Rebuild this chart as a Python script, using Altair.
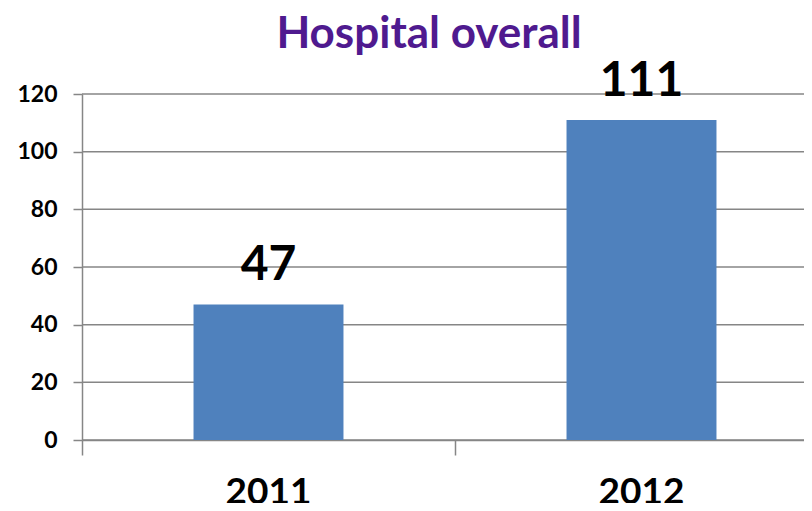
import altair as alt
import pandas as pd

years = ["2011", "2012"]
values = [47, 111]
y_ticks = [0, 20, 40, 60, 80, 100, 120]
title_text = "Hospital overall"

df = pd.DataFrame({"year": years, "value": values})
grid_df = pd.DataFrame({"value": y_ticks})
title_df = pd.DataFrame({"t": [title_text]})

FONT = "Lato"
GRAY = "#868686"
W, H = 722, 346

x_enc = alt.X(
    "year:N",
    sort=years,
    scale=alt.Scale(range=[0, 746], paddingInner=0, paddingOuter=0),
    axis=alt.Axis(
        title=None,
        labelAngle=0,
        bandPosition=0,
        tickSize=15,
        tickColor=GRAY,
        tickWidth=1.5,
        domainColor=GRAY,
        domainWidth=1.5,
        labelFont=FONT,
        labelFontSize=37,
        labelFontWeight="bold",
        labelColor="black",
        labelPadding=19,
        grid=False,
    ),
)
y_scale = alt.Scale(domain=[0, 120], nice=False)
y_axis = alt.Axis(
    title=None,
    values=y_ticks,
    tickSize=9,
    tickColor=GRAY,
    tickWidth=1.5,
    domainColor=GRAY,
    domainWidth=1.5,
    grid=False,
    labelFont=FONT,
    labelFontSize=23,
    labelFontWeight="bold",
    labelColor="black",
    labelPadding=16,
)
y_enc = alt.Y("value:Q", scale=y_scale, axis=y_axis)

grid = alt.Chart(grid_df).mark_rule(color=GRAY, strokeWidth=1.5).encode(
    y=y_enc,
    x=alt.value(0),
    x2=alt.value(W + 20),
)

base = alt.Chart(df).encode(x=x_enc, y=y_enc)
bars = base.mark_bar(color="#4F81BD", width={"band": 0.402})
labels = base.mark_text(
    font=FONT, fontSize=48, fontWeight="bold", color="black",
    baseline="alphabetic", dy=-24,
).encode(text="value:Q")

title = alt.Chart(title_df).mark_text(
    font=FONT, fontSize=44, fontWeight="bold", color="#4F1A8F",
    baseline="alphabetic", align="center",
).encode(text="t:N", x=alt.value(347), y=alt.value(-46))

chart = (
    alt.layer(grid, bars, labels, title)
    .properties(
        width=W,
        height=H,
        autosize=alt.AutoSizeParams(type="none"),
        padding={"left": 74, "top": 86, "right": 0, "bottom": 63},
    )
    .configure_view(stroke=None)
)

chart.save("out.html", embed_options={"renderer": "svg", "actions": False})
